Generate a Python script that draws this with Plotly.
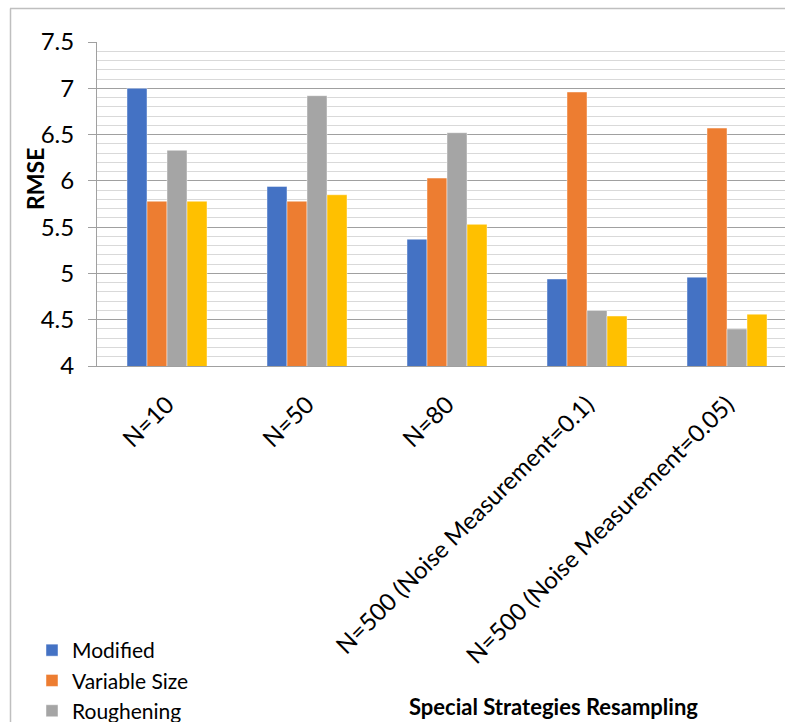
import plotly.graph_objects as go

categories = ["N=10", "N=50", "N=80", "N=500 (Noise Measurement=0.1)", "N=500 (Noise Measurement=0.05)"]
series_names = ["Modified", "Variable Size", "Roughening", "Regularized"]
modified = [7.00, 5.94, 5.37, 4.94, 4.96]
variable_size = [5.78, 5.78, 6.03, 6.96, 6.57]
roughening = [6.33, 6.92, 6.52, 4.60, 4.40]
regularized = [5.78, 5.85, 5.53, 4.54, 4.56]
colors = ["#4472C4", "#ED7D31", "#A5A5A5", "#FFC000"]
legend_visible = [True, True, True, False]  # 4th entry falls below the visible area

W, H = 785, 722
L, R, T, B = 97, 0, 42, 356
pw, ph = W - L - R, H - T - B

def px_x(px):
    return (px - L) / pw

def px_y(py):
    return (H - B - py) / ph

FONT = "Lato"
fig = go.Figure()
for name, vals, col, vis in zip(series_names, [modified, variable_size, roughening, regularized], colors, legend_visible):
    fig.add_trace(go.Bar(
        x=categories, y=vals, name=name,
        marker=dict(color=col, line=dict(color="rgba(255,255,255,0.45)", width=1)),
        showlegend=vis,
    ))

fig.update_layout(
    width=W, height=H,
    margin=dict(l=L, r=R, t=T, b=B, autoexpand=False),
    paper_bgcolor="white", plot_bgcolor="white",
    barmode="group", bargap=0.4286, bargroupgap=0,
    font=dict(family=FONT, size=22, color="black"),
    legend=dict(
        x=px_x(32), y=px_y(630), xanchor="left", yanchor="top",
        font=dict(family=FONT, size=21, color="black"),
        tracegroupgap=0, bgcolor="rgba(0,0,0,0)", itemwidth=30,
    ),
)

fig.update_xaxes(
    type="category", range=[-0.5, -0.5 + pw / 140.0],
    tickangle=-45, tickfont=dict(family=FONT, size=24, color="black"),
    showline=True, linecolor="#A0A0A0", linewidth=1,
    ticks="", showgrid=False, ticklabelstandoff=14,
)
fig.update_yaxes(
    range=[4, 7.5], dtick=0.5, tick0=4,
    tickfont=dict(family=FONT, size=24, color="black"),
    showline=True, linecolor="#A0A0A0", linewidth=1,
    ticks="outside", ticklen=8, tickcolor="#A0A0A0",
    showgrid=True, gridcolor="#A0A0A0", gridwidth=1,
    minor=dict(dtick=0.1, showgrid=True, gridcolor="#D9D9D9", gridwidth=1),
    ticklabelstandoff=9, zeroline=False,
)

fig.add_annotation(
    text="<b>RMSE</b>", textangle=-90, x=px_x(35), y=px_y(179),
    xref="paper", yref="paper", xanchor="center", yanchor="middle", showarrow=False,
    font=dict(family=FONT, size=23, color="black"),
)
fig.add_annotation(
    text="<b>Special Strategies Resampling</b>", x=px_x(553), y=px_y(706),
    xref="paper", yref="paper", xanchor="center", yanchor="middle", showarrow=False,
    font=dict(family=FONT, size=22, color="black"),
)

# chart area border (left and top)
fig.add_shape(type="line", xref="paper", yref="paper",
              x0=px_x(10), x1=px_x(800), y0=px_y(8.5), y1=px_y(8.5),
              line=dict(color="#BFBFBF", width=1.5))
fig.add_shape(type="line", xref="paper", yref="paper",
              x0=px_x(10.5), x1=px_x(10.5), y0=px_y(8.5), y1=px_y(740),
              line=dict(color="#BFBFBF", width=1.5))

fig.write_html("out.html")
